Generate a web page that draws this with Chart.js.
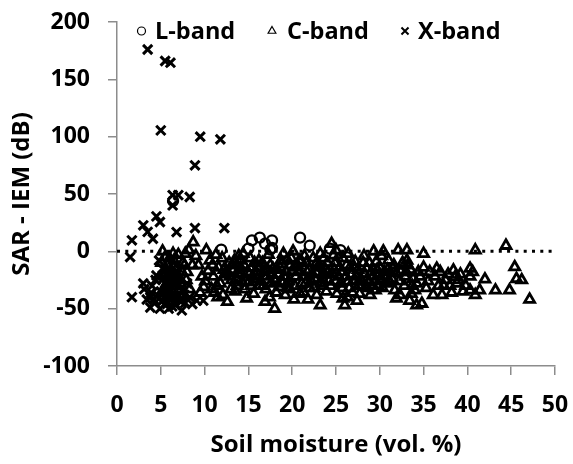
<!DOCTYPE html>
<html>
<head>
<meta charset="utf-8">
<script src="https://cdn.jsdelivr.net/npm/chart.js@4/dist/chart.umd.min.js"></script>
<style>
html,body{margin:0;padding:0;background:#fff;}
#wrap{width:573px;height:464px;position:relative;}
</style>
</head>
<body>
<div id="wrap"><canvas id="c" width="573" height="464"></canvas></div>
<script>
// ---- data ----
const xTicks = [0, 5, 10, 15, 20, 25, 30, 35, 40, 45, 50];
const yTicks = [-100, -50, 0, 50, 100, 150, 200];
const seriesNames = ["L-band", "C-band", "X-band"];

const lBandMoisture = [6.4, 11.9, 15.0, 15.4, 16.3, 16.9, 17.7, 17.5, 17.7, 20.9, 22.0, 24.3, 25.5, 26.2, 16.0, 18.5, 21.0, 23.0, 19.5, 14.0, 25.0];
const lBandDiff     = [44, 1.5, 2.3, 9.6, 12, 6.7, 9.6, 1.5, 3, 12, 5, 2.3, 1, -5, -12, -20, -15, -25, -30, -18, -12];

const cBandMoisture = [
  5.2, 5.5, 5.8, 6.0, 5.4, 6.2, 5.7, 6.5, 6.8, 7.0, 6.3, 5.9, 6.6, 7.2, 7.5, 7.8, 8.0, 8.3, 7.6, 6.1, 5.3, 7.9, 8.6, 8.7, 8.2, 6.9,
  9.0, 9.3, 9.7, 9.9, 10.2, 10.4, 11.0, 10.6, 11.3, 11.6, 11.8, 12.1, 12.6, 9.5, 10.8, 12.0, 12.3, 11.5,
  12.8, 13.1, 13.3, 13.7, 13.9, 14.2, 14.5, 14.8, 14.6, 15.0, 15.4, 15.9, 15.2, 15.6, 16.0, 13.5, 14.0, 16.3,
  16.6, 16.9, 17.1, 17.3, 17.6, 17.8, 18.0, 18.2, 18.4, 18.7, 18.8, 19.0, 19.2, 19.4, 19.6, 19.9, 20.0, 17.4, 18.5, 16.8, 19.7, 20.1,
  20.4, 20.6, 20.9, 21.1, 21.4, 21.7, 22.0, 22.4, 22.6, 22.9, 23.2, 23.2, 23.5, 23.7, 24.0, 21.8, 22.8, 24.2, 20.8, 23.9,
  24.5, 24.7, 24.8, 25.1, 25.3, 25.5, 25.8, 25.8, 26.0, 26.2, 26.5, 26.8, 27.0, 27.2, 27.5, 27.7, 27.9, 28.1, 26.4, 27.4, 25.0, 24.4,
  28.5, 28.9, 29.2, 29.3, 29.6, 29.8, 30.0, 30.2, 30.4, 30.6, 30.8, 31.2, 31.5, 31.9, 31.9, 28.7, 29.5, 31.0,
  32.1, 32.3, 32.6, 33.1, 33.1, 33.2, 33.6, 33.8, 34.2, 34.2, 34.6, 34.8, 35.0, 35.0, 35.3, 35.7, 36.1, 32.8, 33.4,
  36.5, 36.9, 37.1, 37.5, 38.0, 38.4, 38.6, 38.8, 39.2, 39.5, 37.8, 36.7,
  40.3, 40.3, 40.3, 40.9, 40.9, 41.4, 42.0, 43.2, 44.4, 44.8, 45.4, 45.6, 46.2, 47.1, 40.6,
  5.1, 5.6, 6.4, 6.7, 7.1, 7.4, 5.8, 6.0, 7.7, 6.4, 5.5, 7.3,
  10.1, 10.9, 11.4, 12.2, 12.9, 13.4, 13.8, 14.3, 14.9, 15.3, 15.7, 16.1, 11.1, 13.0, 14.4,
  16.4, 17.0, 17.5, 17.9, 18.3, 18.9, 19.3, 19.8, 20.3, 20.7, 21.2, 21.6, 22.2, 22.7, 23.1, 23.4, 23.8, 21.3, 22.5, 20.2,
  24.6, 25.0, 25.4, 25.7, 26.1, 26.6, 26.9, 27.3, 27.8, 28.3, 28.6, 29.0, 29.4, 29.9, 30.3, 30.9, 31.4, 31.7, 26.3, 28.2,
  32.4, 32.9, 33.5, 34.0, 34.4, 35.5, 36.3, 37.3, 38.2, 39.0, 39.8,
  12.5, 13.2, 13.6, 14.1, 14.7, 15.1, 15.5, 16.2, 16.7, 17.2, 17.7, 18.1, 18.6, 19.1, 19.5, 20.5, 21.0, 21.5, 21.9, 22.3,
  22.8, 23.3, 23.6, 24.1, 24.9, 25.6, 26.4, 27.1, 27.6, 28.0, 28.8, 29.1, 29.7, 30.1, 30.5, 31.1, 31.6, 32.2, 33.0, 33.7,
  5.4, 6.5, 7.0, 6.2
];
const cBandDiff = [
  0, -5, -12, -18, -22, -26, -30, -8, -15, -3, -35, -40, -20, -28, -10, -2, -18, -33, -38, -44, -33, -25, -12, 8, 1, -42,
  -4, -12, -22, -31, 1, -17, -22, -8, -3, -14, -28, -38, -44, -36, -33, -6, -20, -40,
  -10, -25, -16, -30, -4, -20, -12, -41, -33, -27, -14, -18, -6, -37, -24, -35, -8, -30,
  -10, -44, -22, -3, -28, -15, -50, -36, -20, -8, -11, -2, -38, -8, -26, -6, -17, -40, -31, -18, -33, 0,
  -22, -12, -37, -28, -4, -18, -32, -6, -24, -14, -2, -47, -30, -20, -10, -42, -38, -26, -8, -35,
  6.7, -3.5, -16, -37, -22, -28, -6, -41, -47, -12, -32, -20, -26, -9, -16, -37, -30, -10, -2, -43, 1, -30,
  -15, -38, -22, 0, -9, -30, -14, -4, 0, -22, -28, -18, -15, -19, -41, -27, -34, -8,
  1, -38, -10, 1, -8, -12, -37, -24, -28, -47, -22, -45.6, -2, -14, -32, -18, -38, -30, -43,
  -15, -18, -38, -25, -30, -16.6, -22.4, -28, -20, -35, -20, -30,
  -15, -22, -34, -38, 1, -34, -24.4, -34, 5, -34, -13.7, -24, -25, -42, -18,
  -10, -16, -2, -24, -33, -18, -27, -6, -12, -30, -36, -40,
  -26, -12, -30, -16, -22, -8, -19, -27, -18, -30, -10, -15, -36, -33, -2,
  -26, -33, -12, -24, -16, -28, -18, -12, -30, -18, -22, -10, -26, -18, -12, -24, -16, -36, -32, -42,
  -20, -26, -14, -32, -22, -14, -36, -22, -24, -20, -32, -18, -26, -20, -32, -16, -24, -34, -40, -4,
  -18, -22, -16, -34, -18, -26, -22, -30, -36, -25, -30,
  -18, -12, -24, -14, -26, -20, -22, -8, -30, -16, -20, -26, -14, -22, -32, -14, -8, -28, -16, -20,
  -10, -28, -6, -18, -10, -18, -26, -14, -30, -26, -10, -30, -16, -24, -18, -26, -12, -26, -18, -30,
  -20, -14, -22, -38
];

const xBandMoisture = [3.5, 5.5, 6.1, 5.0, 9.5, 11.8, 8.9, 6.35, 6.35, 7.0, 8.3, 3.0, 4.5, 4.9, 3.5, 4.1, 6.8, 8.9, 12.25, 1.7, 1.5,
  1.7, 3.0, 3.1, 3.8, 3.8, 4.5, 5.9, 7.4, 9.1, 9.85, 4.3, 5.0, 5.5, 6.0, 6.5, 7.0, 7.8, 8.3, 5.2, 4.8, 6.2, 7.5, 4.0, 5.7, 6.7, 3.4, 8.0, 5.4, 4.6,
  4.4, 5.1, 5.6, 6.3, 6.9, 7.3, 4.9, 5.9, 6.6, 7.7, 3.9, 4.2, 8.6, 5.3, 6.1];
const xBandDiff = [176, 166, 164.5, 105.5, 100, 97.7, 75, 49, 40, 49, 47.4, 22.7, 30.5, 25.6, 17, 11, 16.8, 20.3, 20.3, 9.6, -5,
  -40, -28, -33, -40, -49, -21, -50, -51.5, -43, -43, -45, -35, -28, -42, -38, -30, -45, -40, -15, -8, -22, -35, -30, -46, -47, -42, -28, -40, -38,
  -25, -44, -36, -48, -40, -44, -50, -32, -28, -38, -36, -42, -46, -24, -18];

const zeroLineX = [0, 50];
const zeroLineY = [0, 0];

function pts(xs, ys) { return xs.map((x, i) => ({x: x, y: ys[i]})); }

const FONT = "'Open Sans', Lato, sans-serif";
Chart.defaults.font.family = FONT;
Chart.defaults.font.weight = "bold";
Chart.defaults.color = "#000";

const axisGray = "#8c8c8c";

const legendPlugin = {
  id: "customLegend",
  afterDraw(chart) {
    const ctx = chart.ctx;
    const items = [
      {style: "circle", mx: 141.5, tx: 155, r: 4},
      {style: "triangle", mx: 272, tx: 287, r: 4.5},
      {style: "crossRot", mx: 405, tx: 418, r: 5}
    ];
    ctx.save();
    items.forEach((it, i) => {
      ctx.strokeStyle = "#000";
      ctx.fillStyle = "rgba(0,0,0,0)";
      ctx.lineWidth = it.style === "crossRot" ? 2 : 1.2;
      Chart.helpers.drawPoint(ctx, {pointStyle: it.style, radius: it.r, borderWidth: ctx.lineWidth, rotation: 0}, it.mx, 31);
      ctx.fillStyle = "#000";
      ctx.font = "bold 23.5px " + FONT;
      ctx.textBaseline = "alphabetic";
      ctx.textAlign = "left";
      ctx.fillText(seriesNames[i], it.tx, 38.5);
    });
    ctx.restore();
  }
};

new Chart(document.getElementById("c"), {
  type: "scatter",
  data: {
    datasets: [
      {
        type: "line", label: "zero", data: pts(zeroLineX, zeroLineY),
        borderColor: "#000", borderWidth: 3, borderDash: [3, 5.3], pointRadius: 0, fill: false
      },
      {
        label: seriesNames[0], data: pts(lBandMoisture, lBandDiff),
        pointStyle: "circle", pointRadius: 5, borderWidth: 2.3,
        borderColor: "#000", backgroundColor: "rgba(0,0,0,0)"
      },
      {
        label: seriesNames[1], data: pts(cBandMoisture, cBandDiff),
        pointStyle: "triangle", pointRadius: 5.8, borderWidth: 2.8,
        borderColor: "#000", backgroundColor: "rgba(0,0,0,0)"
      },
      {
        label: seriesNames[2], data: pts(xBandMoisture, xBandDiff),
        pointStyle: "crossRot", pointRadius: 6.5, borderWidth: 3,
        borderColor: "#000", backgroundColor: "rgba(0,0,0,0)"
      }
    ]
  },
  options: {
    responsive: false,
    animation: false,
    layout: {padding: {left: 0, right: 18, top: 22, bottom: 0}},
    plugins: {legend: {display: false}, tooltip: {enabled: false}},
    scales: {
      x: {
        type: "linear", min: 0, max: 50,
        afterBuildTicks: (s) => { s.ticks = xTicks.map(v => ({value: v})); },
        afterFit: (s) => { s.height = 98; s.paddingLeft = 0; s.paddingRight = 0; },
        grid: {drawOnChartArea: false, drawTicks: true, tickLength: 9, color: axisGray, lineWidth: 1.5},
        border: {display: true, color: axisGray, width: 1.5},
        ticks: {font: {size: 23, weight: "bold"}, padding: 17, color: "#000", maxRotation: 0, autoSkip: false},
        title: {display: true, text: "Soil moisture (vol. %)", font: {size: 24, weight: "bold"}, color: "#000", padding: {top: 0, bottom: 4}}
      },
      y: {
        type: "linear", min: -100, max: 200,
        afterBuildTicks: (s) => { s.ticks = yTicks.map(v => ({value: v})); },
        afterFit: (s) => { s.width = 117; s.paddingTop = 0; s.paddingBottom = 0; },
        grid: {drawOnChartArea: false, drawTicks: true, tickLength: 9, color: axisGray, lineWidth: 1.5},
        border: {display: true, color: axisGray, width: 1.5},
        ticks: {font: {size: 23, weight: "bold"}, padding: 18, color: "#000", autoSkip: false},
        title: {display: true, text: "SAR - IEM (dB)", font: {size: 24, weight: "bold"}, color: "#000", padding: {top: 7.5, bottom: 0}}
      }
    }
  },
  plugins: [legendPlugin]
});
</script>
</body>
</html>
